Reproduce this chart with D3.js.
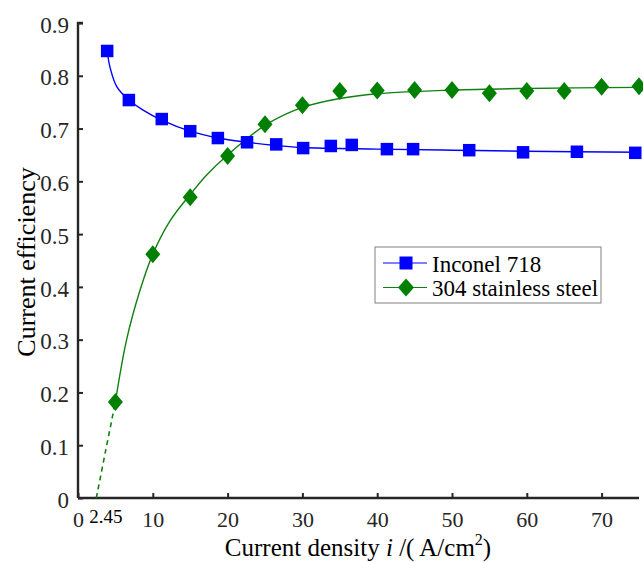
<!DOCTYPE html>
<html>
<head>
<meta charset="utf-8">
<script src="https://cdn.jsdelivr.net/npm/d3@7"></script>
</head>
<body style="margin:0">
<script>
// measured points
const inconelX = [3.9, 6.8, 11.2, 15.0, 18.7, 22.6, 26.5, 30.1, 33.8, 36.6, 41.3, 44.8, 52.3, 59.5, 66.7, 74.5];
const inconelY = [0.847, 0.754, 0.718, 0.695, 0.682, 0.674, 0.670, 0.663, 0.667, 0.669, 0.661, 0.661, 0.659, 0.655, 0.656, 0.654];
const steelX = [5, 10, 15, 20, 25, 30, 35, 40, 45, 50, 55, 60, 65, 70, 75];
const steelY = [0.182, 0.462, 0.570, 0.648, 0.708, 0.744, 0.771, 0.772, 0.773, 0.773, 0.767, 0.771, 0.771, 0.779, 0.780];

// fitted curves
const inconelFitX = [3.9, 4.3, 5.2, 6.8, 8.7, 11.2, 15, 18.7, 22.6, 26.5, 30, 40, 50, 60, 75];
const inconelFitY = [0.847, 0.815, 0.779, 0.754, 0.735, 0.716, 0.695, 0.682, 0.674, 0.668, 0.664, 0.661, 0.659, 0.657, 0.655];
const steelFitX = [5, 6.5, 8.3, 10, 12.3, 15, 17.2, 20, 25, 30, 35, 40, 50, 60, 75];
const steelFitY = [0.182, 0.30, 0.394, 0.462, 0.525, 0.575, 0.612, 0.650, 0.706, 0.740, 0.757, 0.766, 0.773, 0.776, 0.778];
const steelExtX = [2.45, 3.7, 5];
const steelExtY = [0, 0.09, 0.182];

const xTicks = [0, 10, 20, 30, 40, 50, 60, 70];
const yTicks = [0, 0.1, 0.2, 0.3, 0.4, 0.5, 0.6, 0.7, 0.8, 0.9];
const seriesNames = ["Inconel 718", "304 stainless steel"];

const width = 643, height = 562;
const serif = "Liberation Serif";
const axisColor = "#262626";

const x = d3.scaleLinear().domain([0, 75]).range([78, 639]);
const y = d3.scaleLinear().domain([0, 0.9]).range([498, 23]);

const svg = d3.select("body").append("svg")
  .attr("width", width).attr("height", height)
  .attr("font-family", serif);

const zip = (xs, ys) => xs.map((v, i) => [v, ys[i]]);
const line = d3.line().x(d => x(d[0])).y(d => y(d[1])).curve(d3.curveCatmullRom.alpha(0.5));

// axes
const xAxis = d3.axisBottom(x).tickValues(xTicks).tickSize(-5).tickPadding(13).tickFormat(d3.format("d"));
const yAxis = d3.axisLeft(y).tickValues(yTicks).tickSize(-5).tickPadding(9).tickFormat(d => d === 0 ? "0" : d3.format(".1f")(d));

svg.append("g").attr("transform", `translate(0,${y(0)})`).call(xAxis)
  .attr("font-family", serif).attr("font-size", 22)
  .call(g => g.select(".domain").attr("stroke", axisColor).attr("stroke-width", 2.4).attr("d", `M${x(0)},0H${x(75)}`))
  .call(g => g.selectAll(".tick line").attr("stroke", axisColor).attr("stroke-width", 2))
  .call(g => g.selectAll(".tick text").attr("fill", axisColor).attr("font-family", serif));

svg.append("g").attr("transform", `translate(${x(0)},0)`).call(yAxis)
  .attr("font-family", serif).attr("font-size", 23)
  .call(g => g.select(".domain").attr("stroke", axisColor).attr("stroke-width", 2.4).attr("d", `M0,${y(0)}V${y(0.9)}h5`))
  .call(g => g.selectAll(".tick line").attr("stroke", axisColor).attr("stroke-width", 2))
  .call(g => g.selectAll(".tick text").attr("fill", axisColor).attr("font-family", serif).attr("dy", "0.4em"));

svg.append("text").attr("x", x(2.45) - 7).attr("y", y(0) + 25)
  .attr("font-family", serif).attr("font-size", 19).attr("fill", "#000").text("2.45");

// axis titles
svg.append("text").attr("transform", "rotate(-90)").attr("x", -262).attr("y", 35)
  .attr("text-anchor", "middle").attr("font-family", serif).attr("font-size", 26).attr("fill", "#000")
  .text("Current efficiency");

const xt = svg.append("text").attr("x", 358).attr("y", 556).attr("text-anchor", "middle")
  .attr("font-family", serif).attr("font-size", 25).attr("fill", "#000");
xt.append("tspan").text("Current density ");
xt.append("tspan").attr("font-style", "italic").text("i");
xt.append("tspan").text(" /( A/cm");
xt.append("tspan").attr("font-size", 16).attr("dy", -11).text("2");
xt.append("tspan").attr("dy", 11).text(")");

// curves
svg.append("path").datum(zip(inconelFitX, inconelFitY)).attr("fill", "none")
  .attr("stroke", "#0000ff").attr("stroke-width", 1.4).attr("d", line);
svg.append("path").datum(zip(steelFitX, steelFitY)).attr("fill", "none")
  .attr("stroke", "#108010").attr("stroke-width", 1.4).attr("d", line);
svg.append("path").datum(zip(steelExtX, steelExtY)).attr("fill", "none")
  .attr("stroke", "#108010").attr("stroke-width", 1.6).attr("stroke-dasharray", "5,4").attr("d", line);

// markers
const sq = 12.5;
svg.append("g").selectAll("rect").data(zip(inconelX, inconelY)).join("rect")
  .attr("x", d => x(d[0]) - sq / 2).attr("y", d => y(d[1]) - sq / 2)
  .attr("width", sq).attr("height", sq).attr("fill", "#0000ff");

const diamond = (cx, cy, w, h) => `M${cx},${cy - h / 2}L${cx + w / 2},${cy}L${cx},${cy + h / 2}L${cx - w / 2},${cy}Z`;
svg.append("g").selectAll("path").data(zip(steelX, steelY)).join("path")
  .attr("d", d => diamond(x(d[0]), y(d[1]), 15, 18)).attr("fill", "#008000");

// legend
const lg = svg.append("g").attr("transform", "translate(375,247)");
lg.append("rect").attr("width", 226).attr("height", 56).attr("fill", "#fff")
  .attr("stroke", "#808080").attr("stroke-width", 1);
const rows = [{ color: "#0000ff", shape: "square" }, { color: "#108010", shape: "diamond" }];
rows.forEach((r, i) => {
  const cy = 16 + i * 24.5;
  lg.append("line").attr("x1", 8).attr("x2", 52).attr("y1", cy).attr("y2", cy)
    .attr("stroke", r.color).attr("stroke-width", 1.2);
  if (r.shape === "square") {
    lg.append("rect").attr("x", 31 - 6.5).attr("y", cy - 6.5).attr("width", 13).attr("height", 13).attr("fill", "#0000ff");
  } else {
    lg.append("path").attr("d", diamond(31, cy, 16, 18)).attr("fill", "#008000");
  }
  lg.append("text").attr("x", 57).attr("y", cy + 8.5).attr("font-family", serif).attr("font-size", 23).attr("fill", "#000")
    .text(seriesNames[i]);
});
</script>
</body>
</html>
